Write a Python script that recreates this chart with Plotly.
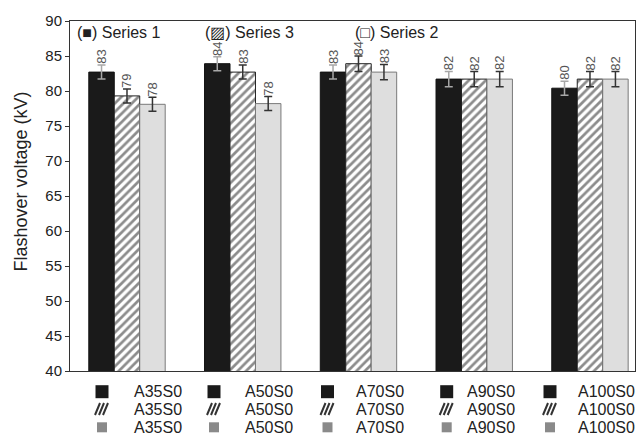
import plotly.graph_objects as go

# Sample groups and measured flashover voltages (kV)
categories = ["A35S0", "A50S0", "A70S0", "A90S0", "A100S0"]
series_names = ["Series 1", "Series 3", "Series 2"]
series1 = [82.7, 83.9, 82.7, 81.7, 80.4]
series3 = [79.3, 82.7, 83.9, 81.7, 81.7]
series2 = [78.1, 78.2, 82.7, 81.7, 81.7]
errors1 = [1.0, 1.0, 1.0, 1.1, 1.0]
errors3 = [1.0, 1.0, 1.1, 1.1, 1.1]
errors2 = [1.0, 1.0, 1.1, 1.1, 1.1]
y_ticks = [40, 45, 50, 55, 60, 65, 70, 75, 80, 85, 90]

W, H = 640, 435
ML, MR, MT, MB = 70, 5, 21, 64
PW, PH = W - ML - MR, H - MT - MB
FONT = "Liberation Sans, Arial, sans-serif"


def px_x(p):
    return (p - ML) / PW


def px_y(p):
    return (H - MB - p) / PH


bar_styles = [
    dict(color="#1a1a1a", line=dict(color="#111111", width=1)),
    dict(color="white", line=dict(color="#222222", width=1),
         pattern=dict(shape="/", fgcolor="#1a1a1a", bgcolor="white", size=6, solidity=0.45)),
    dict(color="#dedede", line=dict(color="#7a7a7a", width=1)),
]
err_colors = ["#a8a8a8", "#333333", "#333333"]
all_values = [series1, series3, series2]
all_errors = [errors1, errors3, errors2]

fig = go.Figure()
for name, vals, errs, style, ec in zip(series_names, all_values, all_errors, bar_styles, err_colors):
    fig.add_trace(go.Bar(
        x=categories, y=vals, name=name, marker=style,
        error_y=dict(type="data", array=errs, color=ec, thickness=1.5, width=4),
        showlegend=False,
    ))

annotations = []
bar_w = 0.22
for k, (vals, errs) in enumerate(zip(all_values, all_errors)):
    for i, (v, e) in enumerate(zip(vals, errs)):
        annotations.append(dict(
            x=i + (k - 1) * bar_w, y=v + e, xref="x", yref="y",
            text=f"{v:.0f}", textangle=-90, showarrow=False,
            xanchor="center", yanchor="bottom", yshift=-1,
            font=dict(family=FONT, size=13, color="#555555"),
        ))

# Y axis title
annotations.append(dict(
    x=px_x(20.5), y=px_y(182), xref="paper", yref="paper",
    text="Flashover voltage (kV)", textangle=-90, showarrow=False,
    xanchor="center", yanchor="middle",
    font=dict(family=FONT, size=18, color="#222222"),
))

# Series captions along the top of the plot
top_labels = ["(\u25a0) Series 1", "(\u25a8) Series 3", "(\u25a1) Series 2"]
top_x = [75, 203, 353]
for txt, xp in zip(top_labels, top_x):
    annotations.append(dict(
        x=px_x(xp), y=px_y(32), xref="paper", yref="paper", text=txt,
        showarrow=False, xanchor="left", yanchor="middle",
        font=dict(family=FONT, size=16, color="#222222"),
    ))

# Key below the axis: one column per sample group
sym_x = [102, 214, 327.5, 446.7, 550]
txt_x = [132, 243, 354, 465, 576]
rows_y = [391.7, 409, 427.3]
shapes = []
for cat, sx, tx in zip(categories, sym_x, txt_x):
    for r, ry in enumerate(rows_y):
        annotations.append(dict(
            x=px_x(tx), y=px_y(ry), xref="paper", yref="paper", text=cat,
            showarrow=False, xanchor="left", yanchor="middle",
            font=dict(family=FONT, size=16, color="#222222"),
        ))
        common = dict(xref="paper", yref="paper", xsizemode="pixel", ysizemode="pixel",
                      xanchor=px_x(sx), yanchor=px_y(ry))
        if r == 0:
            shapes.append(dict(type="rect", x0=-6.5, x1=6.5, y0=-6.5, y1=6.5,
                               fillcolor="#1a1a1a", line=dict(width=0), **common))
        elif r == 1:
            shapes.append(dict(type="path", path="M-7,-6L-2,6M-3,-6L2,6M1,-6L6,6",
                               line=dict(color="#333333", width=2), **common))
        else:
            shapes.append(dict(type="rect", x0=-5, x1=5, y0=-5, y1=5,
                               fillcolor="#8a8a8a", line=dict(width=0), **common))

fig.update_layout(
    width=W, height=H, margin=dict(l=ML, r=MR, t=MT, b=MB),
    paper_bgcolor="white", plot_bgcolor="white",
    barmode="group", bargap=0.34, bargroupgap=0,
    font=dict(family=FONT, color="#222222"),
    annotations=annotations, shapes=shapes,
    xaxis=dict(range=[-0.4924, 4.389], showticklabels=False, ticks="",
               showline=True, mirror=True, linecolor="#333333", linewidth=1,
               showgrid=False, zeroline=False),
    yaxis=dict(range=[40, 90], tickvals=y_ticks, ticks="outside", ticklen=4,
               tickcolor="#333333", showline=True, mirror=True, linecolor="#333333",
               linewidth=1, showgrid=False, zeroline=False,
               tickfont=dict(family=FONT, size=15, color="#222222")),
)

fig.write_html("out.html")
